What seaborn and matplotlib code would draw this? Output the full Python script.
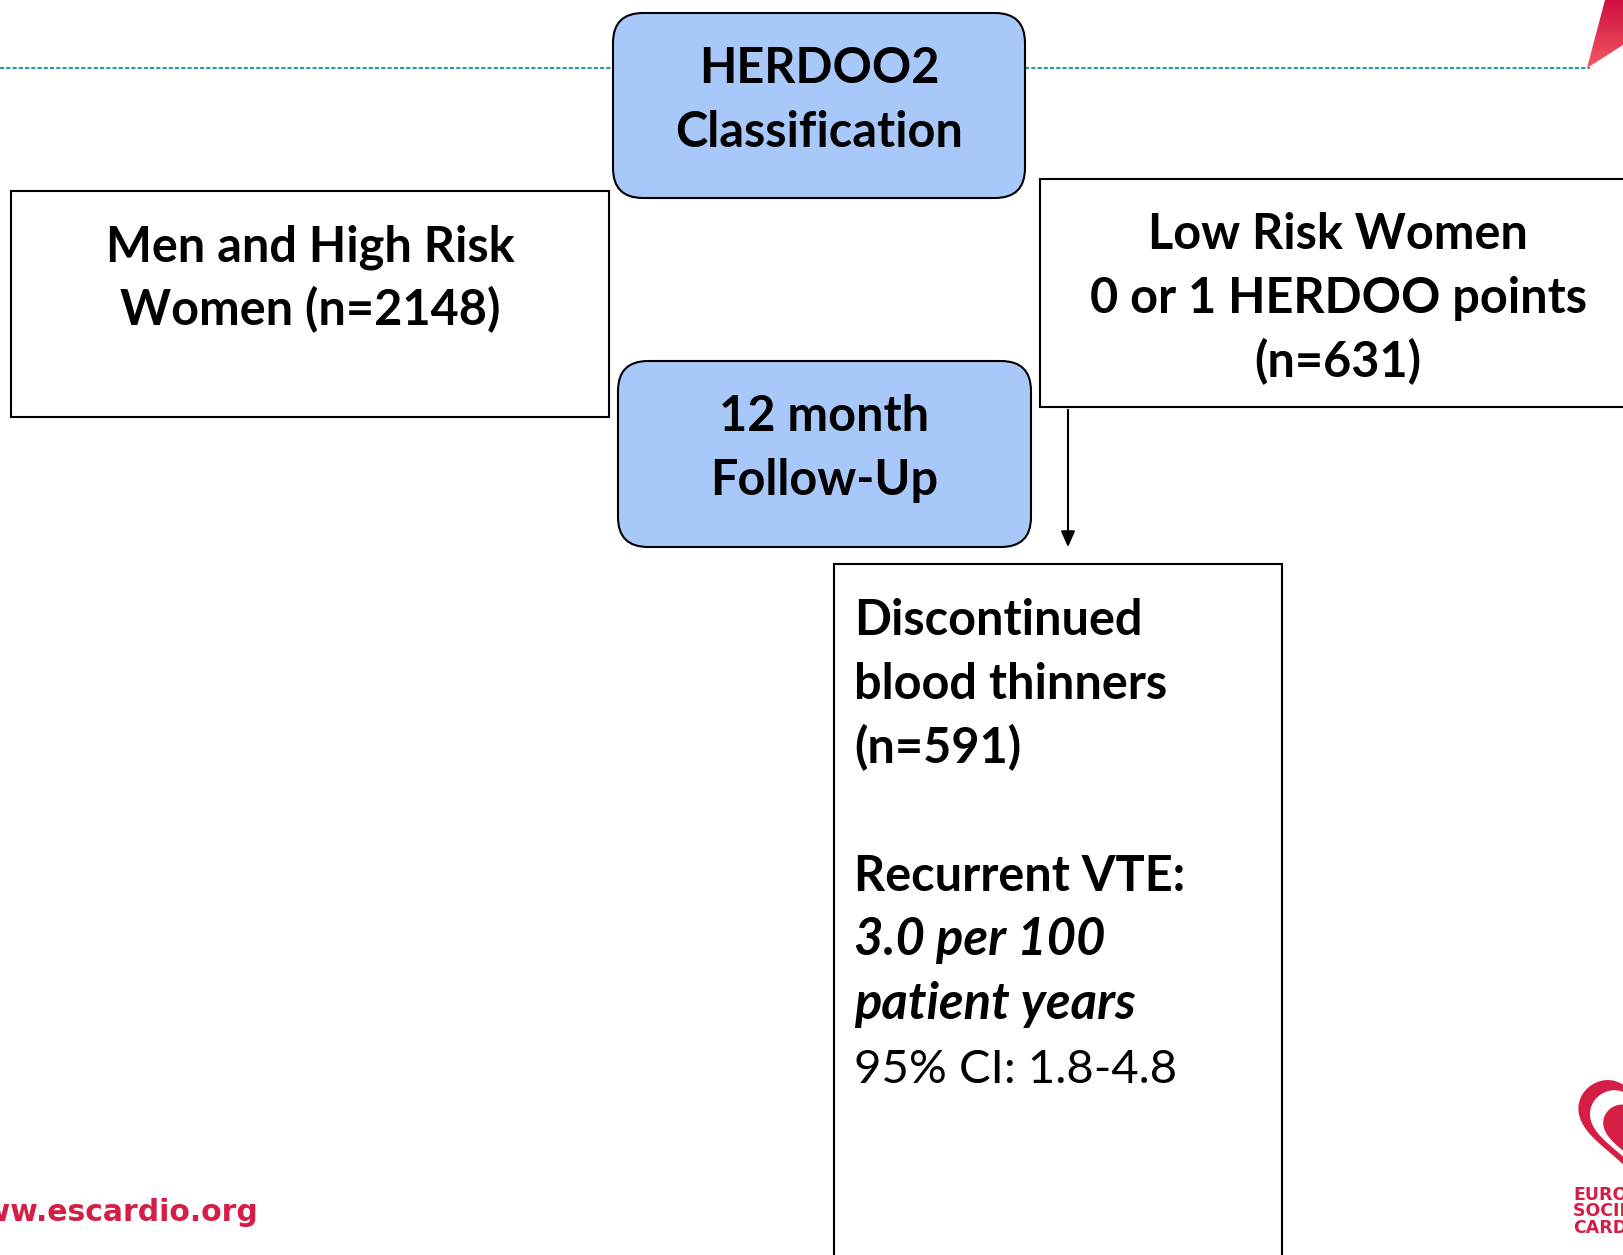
import numpy as np
import matplotlib.pyplot as plt
import seaborn as sns
from matplotlib.patches import FancyBboxPatch, Rectangle, Polygon

# box texts
top_box = ["HERDOO2", "Classification"]
left_box = ["Men and High Risk", "Women (n=2148)"]
right_box = ["Low Risk Women", "0 or 1 HERDOO points", "(n=631)"]
follow_box = ["12 month", "Follow-Up"]
result_lines = ["Discontinued", "blood thinners", "(n=591)", "",
                "Recurrent VTE:", "3.0 per 100", "patient years", "95% CI: 1.8-4.8"]
result_styles = ["bold", "bold", "bold", "bold", "bold", "bolditalic", "bolditalic", "regular"]
site_text = "www.escardio.org"
logo_lines = ["EUROPEAN", "SOCIETY OF", "CARDIOLOGY"]

sns.set_theme(style="white")
plt.rcParams['font.family'] = ['Lato', 'DejaVu Sans']

W, H = 1623, 1255
fig = plt.figure(figsize=(W / 100, H / 100), dpi=100)
ax = fig.add_axes([0, 0, 1, 1])
ax.set_xlim(0, W)
ax.set_ylim(H, 0)
ax.axis("off")

BLUE = "#a9c8fa"
RED = "#d41e45"
FS = {"bold": 35, "bolditalic": 36.5, "regular": 34}
LH = 64

# dotted header line
ax.plot([0, 613], [68, 68], color="#2a9aa5", lw=1.5, ls=(0, (2, 1)))
ax.plot([1025, 1590], [68, 68], color="#2a9aa5", lw=1.5, ls=(0, (2, 1)))

# red corner shape with gradient
tri = Polygon([(1587, 68), (1605, 0), (1623, 0), (1623, 45)], closed=True,
              facecolor="none", edgecolor="none")
ax.add_patch(tri)
grad = np.linspace(0, 1, 100).reshape(-1, 1)
im = ax.imshow(grad, extent=(1585, 1623, 70, 0),
               cmap=sns.blend_palette(["#cf0f40", "#f45a66"], as_cmap=True),
               aspect="auto", zorder=1)
im.set_clip_path(tri)


def rbox(x0, y0, x1, y1):
    ax.add_patch(FancyBboxPatch((x0, y0), x1 - x0, y1 - y0,
                                boxstyle="round,pad=0,rounding_size=30",
                                fc=BLUE, ec="black", lw=1.5, zorder=3))


def sbox(x0, y0, x1, y1):
    ax.add_patch(Rectangle((x0, y0), x1 - x0, y1 - y0, fc="white", ec="black",
                           lw=1.5, zorder=3, clip_on=False))


def lines(txt, x, y0, ha="center", styles=None):
    for i, t in enumerate(txt):
        st = styles[i] if styles else "bold"
        ax.text(x, y0 + i * LH, t, ha=ha, va="baseline", fontsize=FS[st],
                fontweight="normal" if st == "regular" else "bold",
                fontstyle="italic" if "italic" in st else "normal",
                color="black", zorder=5)


rbox(613, 13, 1025, 198)
lines(top_box, 819, 83)

sbox(11, 191, 609, 417)
lines(left_box, 310, 261)

sbox(1040, 179, 1640, 407)
lines(right_box, 1338, 249)

rbox(618, 361, 1031, 547)
lines(follow_box, 824, 431)

# arrow to result box
ax.annotate("", xy=(1068, 550), xytext=(1068, 407),
            arrowprops=dict(arrowstyle="-|>,head_length=0.8,head_width=0.35",
                            color="black", lw=1.5), zorder=4)

sbox(834, 564, 1282, 1270)
lines(result_lines, 854, 635, ha="left", styles=result_styles)

# footer
ax.text(259, 1221, site_text, ha="right", va="baseline", fontsize=21.5,
        fontweight="bold", color=RED, family="DejaVu Sans")

# logo (partially off-canvas)
t = np.linspace(0, 2 * np.pi, 300)
hx = 16 * np.sin(t) ** 3
hy = -(13 * np.cos(t) - 5 * np.cos(2 * t) - 2 * np.cos(3 * t) - np.cos(4 * t))
for s, cx, cy, col in [(3.6, 1636, 1123, RED), (3.0, 1638, 1126, "white"), (2.3, 1640, 1132, RED)]:
    ax.add_patch(Polygon(np.column_stack([cx + s * hx, cy + s * hy]), closed=True,
                         fc=col, ec="none", zorder=2))
for i, txt in enumerate(logo_lines):
    ax.text(1573, 1200 + i * 16.5, txt, ha="left", va="baseline", fontsize=12.5,
            fontweight="bold", color=RED, family="DejaVu Sans")

fig.savefig("out.png", dpi=100)
